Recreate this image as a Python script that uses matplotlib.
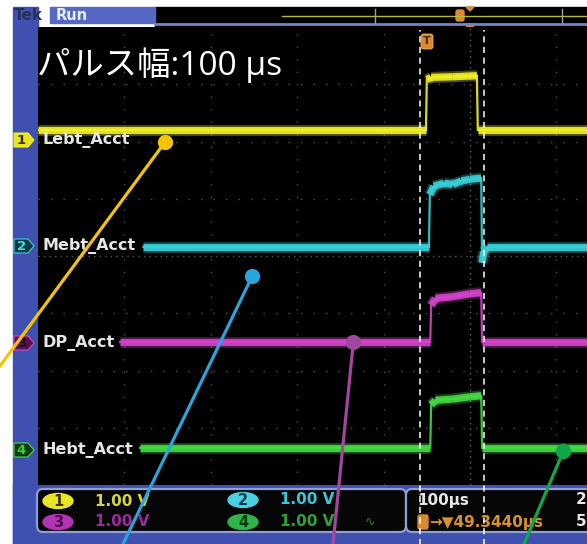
import numpy as np
import matplotlib.pyplot as plt
from matplotlib.patches import Rectangle, FancyBboxPatch, Polygon, Ellipse, ConnectionPatch

plt.rcParams['font.family'] = ['Noto Sans CJK JP', 'DejaVu Sans']

# 各チャンネルの波形: 時間 [µs, トリガ基準] と レベル [div]
t_ch1 = [-500, -51, -50, -45, -20, 8, 9, 136]
v_ch1 = [2.2, 2.2, 3.08, 3.12, 3.13, 3.15, 2.2, 2.2]
t_ch2 = [-378, -47.5, -46.5, -42, -30, -20, -10, 0, 13, 14, 16, 20, 136]
v_ch2 = [0.16, 0.16, 1.07, 1.22, 1.27, 1.25, 1.31, 1.34, 1.36, -0.12, 0.08, 0.16, 0.16]
t_ch3 = [-405, -46, -45, -40, -20, 0, 13, 14, 136]
v_ch3 = [-1.5, -1.5, -0.86, -0.74, -0.71, -0.66, -0.64, -1.5, -1.5]
t_ch4 = [-382, -46, -45, -40, -20, 0, 13, 14, 136]
v_ch4 = [-3.35, -3.35, -2.6, -2.52, -2.5, -2.46, -2.44, -3.35, -3.35]

ch_names = ['Lebt_Acct', 'Mebt_Acct', 'DP_Acct', 'Hebt_Acct']
ch_colors = ['#f2f224', '#38d2da', '#d444cc', '#44dc44']
volts_div = ['1.00 V', '1.00 V', '1.00 V', '1.00 V']
time_div = '100µs'
trig_pos = '→▼49.3440µs'
cursor_t = [-57.9, 16.2]   # パルス幅カーソル

# 吹き出しの丸の位置 (時間, レベル)
dot_t = [-353, -252, -135, 108]
dot_v = [1.99, -0.35, -1.5, -3.41]
dot_colors = ['#f5c400', '#2aa5dc', '#a2479f', '#10a64a']
dot_end = [(0, 366), (123, 544), (333, 544), (524, 544)]

W, H = 587, 544
fig = plt.figure(figsize=(W / 100, H / 100), dpi=100)
fig.patch.set_facecolor('white')

# 枠・読み取り表示 (ピクセル座標)
deco = fig.add_axes([0, 0, 1, 1], zorder=0)
deco.set_xlim(0, W)
deco.set_ylim(H, 0)
deco.axis('off')
bezel = '#3f50b0'
deco.add_patch(Rectangle((13, 7), 25, H - 7, color=bezel))
deco.add_patch(Rectangle((13, 483), W - 13, H - 483, color=bezel))
deco.add_patch(Rectangle((155, 7), W - 155, 22, color='black'))
deco.add_patch(Rectangle((50, 7), 105, 16, color='#5668c4'))
deco.text(14, 15, 'Tek', color='#2a2f55', fontsize=11, fontweight='bold',
          va='center', family='DejaVu Sans')
deco.text(56, 15, 'Run', color='#e8ecff', fontsize=10.5, fontweight='bold',
          va='center', family='DejaVu Sans')
deco.plot([282, W], [15.5, 15.5], color='#b8b840', lw=1)
deco.plot([155, W], [24, 24], color='#7482cc', lw=2)
for bx in [375, 562]:
    deco.plot([bx, bx], [9, 23], color='#9aa0b0', lw=1)
deco.add_patch(FancyBboxPatch((456, 10), 8, 11, boxstyle='round,pad=0,rounding_size=2',
                              color='#d88a30'))
deco.add_patch(Polygon([(466, 7), (474, 7), (470, 11)], color='#d88a30'))
deco.add_patch(Polygon([(465, 24), (475, 24), (470, 30)], color='#d88a30'))

box_edge = '#8f9ed4'
deco.add_patch(FancyBboxPatch((37, 489), 369, 43, boxstyle='round,pad=0,rounding_size=6',
                              fc='#060606', ec=box_edge, lw=1.6))
deco.add_patch(FancyBboxPatch((406, 489), 200, 43, boxstyle='round,pad=0,rounding_size=6',
                              fc='#060606', ec=box_edge, lw=1.6))

oval_pos = [(58, 501), (243, 500), (58, 522), (243, 522)]
oval_fc = ['#e8e426', '#4cd0e0', '#b233b4', '#2fb24a']
oval_tc = ['#3a3000', '#0b3a48', '#4a0a4a', '#0a3a12']
text_col = ['#d6d63c', '#3cc8d6', '#9a2a9e', '#2fa040']
for i, (ox, oy) in enumerate(oval_pos):
    deco.add_patch(Ellipse((ox, oy), 30, 15, color=oval_fc[i]))
    deco.text(ox, oy + 0.5, str([1, 2, 3, 4][i]), color=oval_tc[i], fontsize=10.5,
              fontweight='bold', ha='center', va='center', family='DejaVu Sans')
    deco.text(ox + 37, oy, volts_div[i], color=text_col[i], fontsize=11,
              fontweight='bold', va='center', family='DejaVu Sans')
deco.text(365, 522, '∿', color='#2f7a34', fontsize=9, va='center', family='DejaVu Sans')
deco.text(417, 500, time_div, color='#e8e8e8', fontsize=11, fontweight='bold',
          va='center', family='DejaVu Sans')
deco.text(576, 500, '2.', color='#e8e8e8', fontsize=11, fontweight='bold',
          va='center', family='DejaVu Sans')
deco.add_patch(FancyBboxPatch((418, 515), 10, 14, boxstyle='round,pad=0,rounding_size=2',
                              color='#d88a30'))
deco.text(429, 522, trig_pos, color='#d8922e', fontsize=11, fontweight='bold',
          va='center', family='DejaVu Sans')
deco.text(576, 522, '5', color='#e8e8e8', fontsize=11, fontweight='bold',
          va='center', family='DejaVu Sans')

# オシロスコープ画面
ax = fig.add_axes([38 / W, (H - 485) / H, (W - 38) / W, 458 / H], zorder=1)
ax.set_facecolor('black')
ax.set_xlim(-500, 135.4)
ax.set_ylim(-4, 4)
for s in ax.spines.values():
    s.set_visible(False)
ax.set_xticks([])
ax.set_yticks([])

grid_kw = dict(color='#505050', lw=1.0, ls=(0, (1, 8)))
for gx in [-400, -300, -200, -100, 100]:
    ax.axvline(gx, **grid_kw)
for gy in [-3, -2, -1, 1, 2, 3]:
    ax.axhline(gy, **grid_kw)
ax.axvline(0, color='#6a6a6a', lw=1.0, ls=(0, (1, 3)))
ax.axhline(0, color='#5a5a5a', lw=1.0, ls=(0, (1, 3)))

traces = [(t_ch1, v_ch1), (t_ch2, v_ch2), (t_ch3, v_ch3), (t_ch4, v_ch4)]
for (t, v), c in zip(traces, ch_colors):
    t = np.asarray(t, float)
    v = np.asarray(v, float)
    ax.plot(t, v, color=c, lw=1.6, alpha=0.9, solid_joinstyle='miter')
    for i in range(len(t) - 1):
        if abs(v[i + 1] - v[i]) < 0.3:
            ax.plot(t[i:i + 2], v[i:i + 2], color=c, lw=8, alpha=0.3,
                    solid_capstyle='butt')
            ax.plot(t[i:i + 2], v[i:i + 2], color=c, lw=5.2, alpha=0.9,
                    solid_capstyle='butt')

# パルス幅カーソル (下の表示欄まで伸びる)
ax.vlines(cursor_t, -5.1, 3.95, colors='white', lw=1.1, ls=(0, (4, 3)), clip_on=False)

# チャンネル名とマーカー
over = fig.add_axes([0, 0, 1, 1], zorder=3)
over.set_xlim(0, W)
over.set_ylim(H, 0)
over.set_facecolor('none')
over.axis('off')
label_y = [140, 246, 343, 450]
tag_fc = ['#e8e426', '#0b3b42', '#56124e', '#0f3a14']
tag_tc = ['#3a3000', '#4cd8e2', '#2a0628', '#3ccc3c']
for i, y in enumerate(label_y):
    over.add_patch(Polygon([(14, y - 7), (28, y - 7), (34, y), (28, y + 7), (14, y + 7)],
                           fc=tag_fc[i], ec=ch_colors[i], lw=0.8))
    over.text(21.5, y + 0.5, str(i + 1), color=tag_tc[i], fontsize=9.5, fontweight='bold',
              ha='center', va='center', family='DejaVu Sans')
    over.text(42, y, ch_names[i], color='#e6e6e6', fontsize=11.5, fontweight='bold',
              va='center', family='DejaVu Sans')
over.add_patch(FancyBboxPatch((421, 34), 12, 15, boxstyle='round,pad=0,rounding_size=2.5',
                              fc='#d88a30', ec='#f0b060', lw=0.6))
over.text(427, 41.5, 'T', color='#4a2a00', fontsize=8, fontweight='bold',
          ha='center', va='center', family='DejaVu Sans')

over.text(37, 65, 'パルス幅:100 µs', color='white', fontsize=24, va='center',
          family=['Open Sans', 'Noto Sans CJK JP'])

# 吹き出し
for tx, vy, c, end in zip(dot_t, dot_v, dot_colors, dot_end):
    con = ConnectionPatch(xyA=(tx, vy), coordsA=ax.transData, xyB=end,
                          coordsB=over.transData, color=c, lw=2.3, zorder=5)
    over.add_artist(con)
    over.plot(*ax.transData.transform((tx, vy)), 'o', color=c, ms=10,
              transform=None, zorder=6, clip_on=False)

fig.savefig('out.png', dpi=100)
